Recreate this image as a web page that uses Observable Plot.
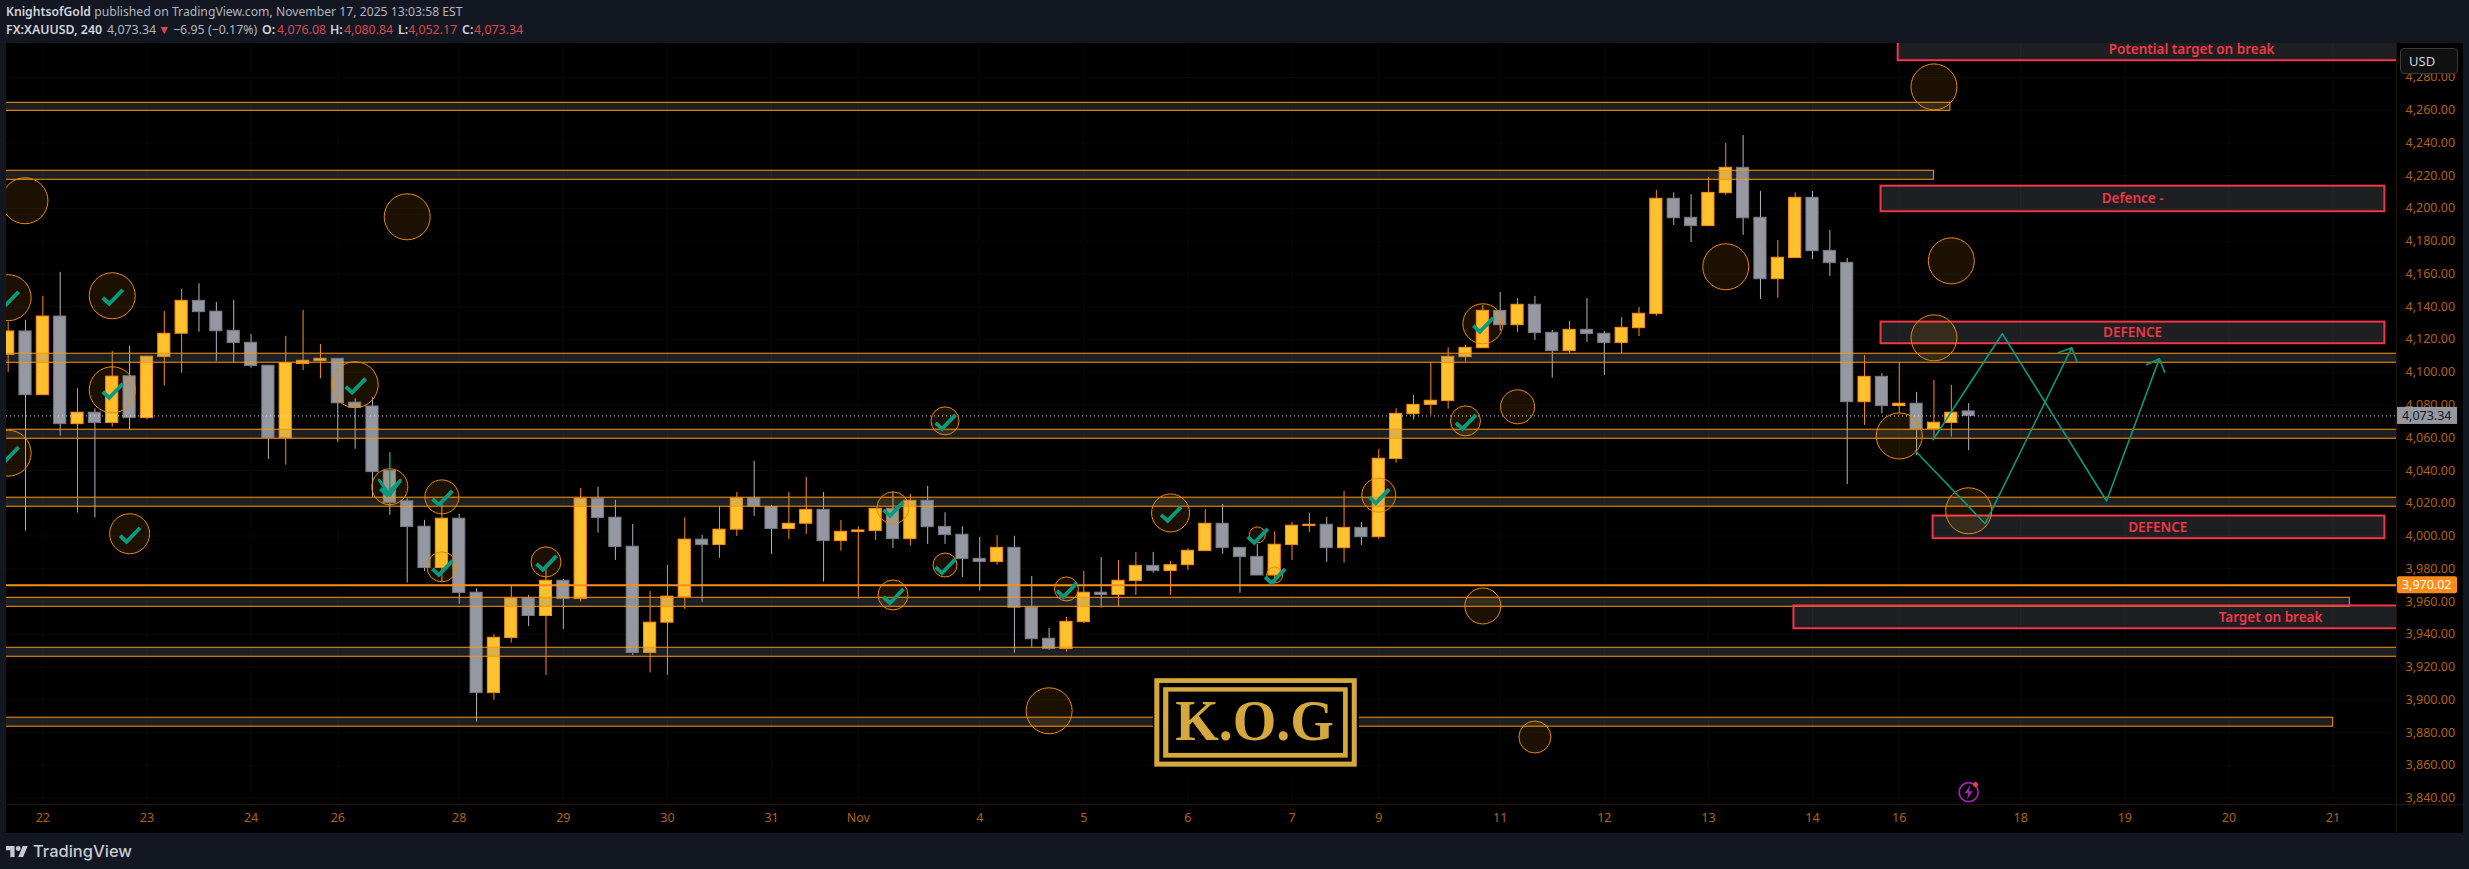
<!DOCTYPE html>
<html>
<head>
<meta charset="utf-8">
<script src="https://cdn.jsdelivr.net/npm/d3@7"></script>
<script src="https://cdn.jsdelivr.net/npm/@observablehq/plot@0.6"></script>
<style>
html,body{margin:0;padding:0;background:#131722;width:2469px;height:869px;overflow:hidden;font-family:"Noto Sans",sans-serif}
.line{position:absolute;white-space:pre;color:#b2b5be;line-height:18px;font-size:12.2px}
.line b{color:#d1d4dc;font-weight:600}
.r{color:#d9474b}
.p{position:absolute;top:21px;white-space:pre;color:#b2b5be;line-height:18px;font-size:12.4px}
.p.b{color:#d1d4dc;font-weight:600}
.p.r{color:#d9474b}
#chart{position:absolute;left:6px;top:43px;width:2457px;height:790px;background:#000}
#chart svg{position:absolute;left:0;top:0;background:transparent}
#sepV{position:absolute;left:2390px;top:0;width:1px;height:790px;background:#1f1208}
#sepH{position:absolute;left:0;top:761px;width:2457px;height:1px;background:#2a1606}
#usd{position:absolute;left:2394px;top:5px;width:58px;height:26px;box-sizing:border-box;background:#101010;border:1px solid #3a3a3a;border-radius:4px;color:#d1d4dc;font-size:13px;line-height:24px;padding-left:8px}
#foot{position:absolute;left:6px;top:839px;height:24px;display:flex;align-items:center;gap:5px;color:#c8cbd2;font-family:Inter,sans-serif;font-weight:500;font-size:16.5px}
</style>
</head>
<body>
<div class="line" style="left:6px;top:3px"><b>KnightsofGold</b> published on TradingView.com, November 17, 2025 13:03:58 EST</div>
<span class="p b" style="left:6px">FX:XAUUSD, 240</span><span class="p" style="left:107px">4,073.34</span><span class="p r" style="left:158px">▼</span><span class="p" style="left:173px">−6.95 (−0.17%)</span><span class="p b" style="left:262px">O:</span><span class="p r" style="left:277px">4,076.08</span><span class="p b" style="left:330px">H:</span><span class="p r" style="left:344px">4,080.84</span><span class="p b" style="left:398px">L:</span><span class="p r" style="left:408px">4,052.17</span><span class="p b" style="left:462px">C:</span><span class="p r" style="left:474px">4,073.34</span>
<div id="chart"></div>
<div id="foot"><svg width="22" height="11" viewBox="0 4 36 18"><path fill="#c8cbd2" d="M14 22H7V11H0V4h14v18zM28 22h-8l7.5-18h8L28 22z"/><circle fill="#c8cbd2" cx="20" cy="8" r="4"/></svg><span>TradingView</span></div>
<script>
// 4-hour XAUUSD candles, one entry per bar
const open = [4110.6,4124.9,4086,4134,4068.3,4075.3,4069,4097.5,4072,4109.3,4123.5,4143.6,4137,4125.3,4118,4104,4059.8,4105,4106.8,4108.2,
4081.4,4079.1,4039.7,4021.2,4005.7,3980.5,4010.6,3965.4,3904.1,3937.7,3961.9,3951.2,3972.7,3961.5,4022.8,4011.2,3993.5,3928.6,3947.1,3962.8,
3997.8,3994.5,4003.9,4023,4017.7,4004.3,4007.5,4016,3996.9,4002.4,4003,4016.6,3998.1,4021.5,4005.6,4000.8,3986.1,3984.1,3992.8,3956.4,
3937.3,3931,3947.4,3965.4,3964,3972.5,3981.8,3978.6,3982.2,3990.8,4007.5,3992.8,3987.3,3975.9,3994.5,4006.1,4006.9,3992.6,4005,3999.3,
4047,4074.4,4080.1,4082.4,4109.2,4114.7,4137.5,4128.7,4141.2,4124.1,4112.9,4125.9,4123.5,4117.8,4126.9,4135.5,4205.9,4194.3,4189.2,4209.3,
4224.8,4194.3,4156.8,4169.7,4206.5,4174.1,4166.8,4081.7,4097.2,4079.3,4080.8,4065.3,4069,4076.08];
const high = [4130.6,4131.6,4146.3,4161,4090,4077.7,4112.7,4115.8,4109.5,4137,4150.6,4154,4142.6,4143.9,4123,4104,4121.9,4137.7,4117,4108.2,
4083.8,4084.4,4039.7,4022.8,4009.6,4019.3,4013.2,3967.8,3939.8,3969.5,3963.8,3981,3973.5,4029,4029.7,4021.8,4007.1,3966.2,3982.1,4011.2,
4000.4,4017.7,4026.6,4045.6,4018.7,4026.6,4035.8,4026.6,4009.5,4005.6,4016.6,4026.8,4025.4,4030.3,4014.2,4005.6,3999.1,4000.2,3999.8,3975.3,
3943.6,3950.3,3978.4,3986.9,3985.1,3990,3990,3984.5,3992.2,4016.2,4019.3,3992.8,3994.9,4002.6,4008.3,4013.8,4011.3,4027.2,4008.3,4052.9,
4077.7,4085.8,4105.6,4114.9,4116.3,4140.8,4148.7,4145,4146.3,4125.5,4131,4145,4124.9,4133.4,4139.5,4211,4209.5,4208.5,4218.9,4239.7,
4244.5,4210.4,4180.4,4209.5,4210.4,4186.5,4169.5,4110.2,4099.2,4105.6,4087.7,4095,4092,4080.84];
const low = [4100,4003,4086,4061,4014,4011,4066.5,4065,4071,4091.6,4099.5,4124.5,4106.6,4105.8,4102.5,4046.8,4043.3,4101,4096,4057.2,
4053,4023.8,4012.6,3971.3,3978.4,3971.9,3958.3,3886.4,3899.7,3934.7,3944.8,3914.9,3943,3959.7,4001.8,3985.1,3927.1,3916.4,3914.9,3955.2,
3959.5,3986.4,3999.8,4012,3988.8,3997.9,4001,3971.9,3990.8,3961.5,3997.3,3992.4,3993.8,3994.9,3994.9,3974.7,3966.4,3982.2,3928.5,3932,
3930.2,3929.1,3946.6,3956,3957,3963.7,3977.4,3963.7,3979,3990.8,3988.8,3965,3975.9,3971.3,3985.1,4002.2,3983.9,3983.5,3994.3,3998.1,
4044.5,4070.8,4073.8,4077.5,4106.2,4114.7,4125.1,4124.3,4119.4,4096.4,4111.7,4118.2,4098,4111.3,4121.8,4134.2,4189.6,4179.2,4189.2,4208.1,
4183.5,4144.4,4145.2,4169.7,4168.8,4158.5,4031.5,4067.5,4074.6,4074.7,4049.2,4060,4060.4,4052.17];
const close = [4124.9,4086,4134,4068.3,4075.3,4069,4097.3,4072,4109.5,4123.5,4143.6,4136.7,4125,4117.8,4103.8,4059.8,4105.6,4107,4108.2,4081,
4078.3,4039,4020.3,4005.5,3980.5,4010.6,3965.2,3904.1,3937.9,3961.9,3951.2,3972.7,3961.5,4022.8,4011,3993.3,3928.6,3947.1,3963,3997.8,
3994.5,4003.9,4023,4017.9,4004.3,4007.5,4016,3996.9,4002.6,4003.4,4016.6,3998.1,4021.5,4005.4,4000.6,3985.9,3984.1,3992.8,3956.2,3937,
3931,3947.6,3965.4,3964,3972.7,3981.8,3978.6,3982.2,3991,4007.5,3992.6,3987.1,3975.9,3994.7,4006.3,4006.9,3992.6,4005,3999.3,4047.2,
4074.6,4080.1,4082.6,4109.4,4114.9,4137.5,4128.7,4141.2,4123.9,4112.9,4125.9,4123.3,4117.8,4127.1,4135.7,4205.9,4194,4189.2,4209.5,4224.8,
4194,4156.8,4169.9,4206.5,4173.9,4166.6,4081.7,4097.2,4079.3,4080.8,4065.1,4069.2,4075.3,4073.34];

// Orange zones: [first bar, last bar, upper price, lower price]; bars beyond the view run off the chart
const zones = [[-5,111.95,4264.5,4259.6],[-5,111,4223,4217.5],[-5,145,4111.3,4105.8],[-5,145,4064.9,4059.4],
[-5,145,4023.4,4017.9],[-5,134.97,3962.3,3956.8],[-5,145,3931.8,3926.3],[-5,134.01,3889.1,3883.6]];
// Red boxes: [first bar, last bar, upper price, lower price]
const redBoxes = [[108.94,145,4303,4290.2],[107.95,136.99,4213.6,4198],[107.95,136.99,4130.6,4117.4],
[110.95,136.99,4012.2,3998.4],[102.93,145,3957.3,3943.4]];
const redLabels = ["Potential target on break","Defence -","DEFENCE","DEFENCE","Target on break"];
const redLabelBars = [125.85,122.45,122.45,123.9,130.4];
const redLabelPrices = [4296.9,4205.8,4124,4005.3,3950.4];
// Circles: [bar, price, radius, has tick]
const circles = [[0.97,4204.7,23,0],[23,4194.9,23,0],[0,4145.5,23,1],[6,4146.7,23,1],[6,4089.3,23,1],[20,4092.4,23,1],[0,4050.6,23,1],
[7,4001.4,20,1],[22,4030.1,18,1],[25,4023.9,17,1],[25,3981.2,15,1],[31,3984.2,15,1],[54,4070.3,14,1],[51,4017.2,16,1],[54,3982.3,12,1],
[51,3964,15,1],[61,3967.7,12,1],[67,4014.1,19,1],[72,4000.7,8,1],[73,3976.2,8,1],[79,4025,17,1],[84,4070.3,15,1],[87,4078.9,17,0],
[85,3957.3,18,0],[85,4129.6,20,1],[60,3893.3,23,0],[88,3877.3,16,0],[111,4274.2,23,0],[99,4164.4,23,0],[112,4168,23,0],[111,4121,23,0],
[109,4061.1,23,0],[113,4015.4,23,0]];
// Teal projected paths and their arrow heads
const pathA = [[110.95,4058.8],[114.94,4123.5],[120.95,4021.4],[123.99,4108.2]];
const pathB = [[109.93,4051.9],[113.95,4007.5],[118.94,4114.9]];
const headA = [[123.25,4104.6],[123.99,4108.2],[124.3,4100.1]];
const headB = [[118.17,4111.9],[118.94,4114.9],[119.25,4106.2]];
const downArrow = [[22,4050.9],[22,4028]];
const downHead = [[21.4,4034],[22,4024.8],[22.6,4034]];
// Axis ticks
const priceTicks = d3.range(3840,4281,20);
const dateTicks = [2,8,14,19,26,32,38,44,49,56,62,68,74,79,86,92,98,104,109,116,122,128,134];
const dateLabels = ["22","23","24","26","28","29","30","31","Nov","4","5","6","7","9","11","12","13","14","16","18","19","20","21"];
const lastPrice = 4073.34, alertPrice = 3970.02, lastBar = 113;
// K.O.G badge frames: [first bar, last bar, upper price, lower price]
const logoClear = [66.01,77.89,3914.5,3857.5];
const logoOuter = [66.09,77.76,3912.9,3858.9];
const logoBlack = [66.38,77.47,3910,3862];
const logoInner = [66.6,77.24,3907.4,3864.4];
const logoCore = [66.9,76.97,3904.7,3867.3];

const bars = open.map((o,i)=>({i,o,h:high[i],l:low[i],c:close[i],up:close[i]>=o}));
const upBars = bars.filter(d=>d.up), downBars = bars.filter(d=>!d.up);
const box = a=>({x1:a[0],x2:a[1],y1:a[2],y2:a[3]});
const ORANGE="#FF9800", GOLD="#FFC12E", EDGE="#FF8C1A", GREY="#9598A1", RED="#F23645", TEAL="#089981", BAND="rgba(120,123,134,0.25)", LOGO="#D4A83E";
const tickMark = {draw(c){c.moveTo(-9.5,2);c.lineTo(-3,8);c.lineTo(10.5,-6);}};
const bolt = {draw(c){c.moveTo(1.5,-7);c.lineTo(-4,1);c.lineTo(-0.5,1);c.lineTo(-1.5,7);c.lineTo(4,-1);c.lineTo(0.5,-1);c.closePath();}};
const rectOf = (a,o)=>Plot.rect([box(a)],{x1:"x1",x2:"x2",y1:"y1",y2:"y2",...o});
const chart = Plot.plot({
  width:2457,height:790,marginLeft:0,marginRight:67,marginTop:0,marginBottom:29,
  style:{background:"transparent",fontFamily:"'Noto Sans',sans-serif",fontSize:"12px",overflow:"visible"},
  x:{domain:[-0.095,137.66],range:[0,2390],label:null},
  y:{domain:[3836.1,4300.7],range:[761,0],label:null},
  r:{type:"identity"},
  marks:[
    Plot.gridY(priceTicks,{stroke:"#090909",strokeOpacity:1}),
    Plot.gridX(dateTicks,{stroke:"#090909",strokeOpacity:1}),
    Plot.ruleX(upBars,{x:"i",y1:"l",y2:"h",stroke:EDGE,strokeWidth:1,clip:"frame"}),
    Plot.ruleX(downBars,{x:"i",y1:"l",y2:"h",stroke:"#B2B5BE",strokeWidth:1,clip:"frame"}),
    Plot.rect(upBars,{x1:d=>d.i-0.35,x2:d=>d.i+0.35,y1:"o",y2:"c",fill:GOLD,stroke:EDGE,strokeWidth:1,clip:"frame"}),
    Plot.rect(downBars,{x1:d=>d.i-0.35,x2:d=>d.i+0.35,y1:"o",y2:"c",fill:GREY,stroke:"#787B86",strokeWidth:1,clip:"frame"}),
    Plot.ruleY([lastPrice],{stroke:"#D1D4DC",strokeDasharray:"1 3",strokeWidth:1}),
    Plot.rect(zones,{x1:d=>d[0],x2:d=>d[1],y1:d=>d[2],y2:d=>d[3],fill:BAND,stroke:ORANGE,strokeWidth:1,clip:"frame"}),
    Plot.ruleY([alertPrice],{stroke:EDGE,strokeWidth:2}),
    Plot.rect(redBoxes,{x1:d=>d[0],x2:d=>d[1],y1:d=>d[2],y2:d=>d[3],fill:BAND,stroke:RED,strokeWidth:2,clip:"frame"}),
    Plot.text(redLabels,{x:(d,i)=>redLabelBars[i],y:(d,i)=>redLabelPrices[i],text:d=>d,fill:RED,fontSize:13.5,fontWeight:600}),
    Plot.dot(circles,{x:d=>d[0],y:d=>d[1],r:d=>d[2],fill:ORANGE,fillOpacity:0.11,stroke:"#E88A00",strokeWidth:1,clip:"frame"}),
    Plot.line(downArrow,{x:d=>d[0],y:d=>d[1],stroke:TEAL,strokeWidth:1.5}),
    Plot.line(downHead,{x:d=>d[0],y:d=>d[1],stroke:TEAL,strokeWidth:3}),
    Plot.dot(circles.filter(d=>d[3]),{x:d=>d[0],y:d=>d[1],symbol:tickMark,fill:"none",stroke:TEAL,strokeWidth:3.8,strokeLinejoin:"miter",clip:"frame"}),
    ...[pathA,pathB,headA,headB].map(p=>Plot.line(p,{x:d=>d[0],y:d=>d[1],stroke:TEAL,strokeWidth:1.6})),
    // K.O.G badge
    rectOf(logoClear,{fill:"#000"}),
    rectOf(logoOuter,{fill:LOGO}),
    rectOf(logoBlack,{fill:"#000"}),
    rectOf(logoInner,{fill:LOGO}),
    rectOf(logoCore,{fill:"#000"}),
    Plot.text(["K.O.G"],{x:71.84,y:3886.5,text:d=>d,fill:LOGO,fontSize:56,fontWeight:700,fontFamily:"'Liberation Serif',serif"}),
    // event icon
    Plot.dot([0],{x:lastBar,y:3843.6,r:9.5,fill:"none",stroke:"#9C27B0",strokeWidth:1.8}),
    Plot.dot([0],{x:lastBar,y:3843.6,symbol:bolt,fill:"#9C27B0"}),
    Plot.dot([0],{x:113.4,y:3848.3,r:2.5,fill:RED}),
    // axes
    Plot.axisY({anchor:"right",ticks:priceTicks,tickSize:0,tickPadding:9,tickFormat:d3.format(",.2f"),fill:"#B3610F",fontSize:12.5,label:null}),
    Plot.axisX({anchor:"bottom",ticks:dateTicks,tickSize:0,tickPadding:9,tickFormat:d=>dateLabels[dateTicks.indexOf(d)],fill:"#B3610F",fontSize:12.5,label:null}),
    // price badges on the axis
    Plot.rect([0],{x1:137.72,x2:141.18,y1:lastPrice+5.2,y2:lastPrice-5.2,fill:GREY}),
    Plot.text([lastPrice],{x:139.4,y:d=>d,text:d=>d3.format(",.2f")(d),fill:"#131722",fontSize:12.5}),
    Plot.rect([0],{x1:137.72,x2:141.18,y1:alertPrice+5.2,y2:alertPrice-5.2,fill:EDGE,r:2}),
    Plot.text([alertPrice],{x:139.4,y:d=>d,text:d=>d3.format(",.2f")(d),fill:"#FFF",fontSize:12.5})
  ]
});
const host=document.getElementById("chart");
host.appendChild(chart);
for(const [id,txt] of [["sepV",""],["sepH",""],["usd","USD"]]){const e=document.createElement("div");e.id=id;e.textContent=txt;host.appendChild(e);}
</script>
</body>
</html>
